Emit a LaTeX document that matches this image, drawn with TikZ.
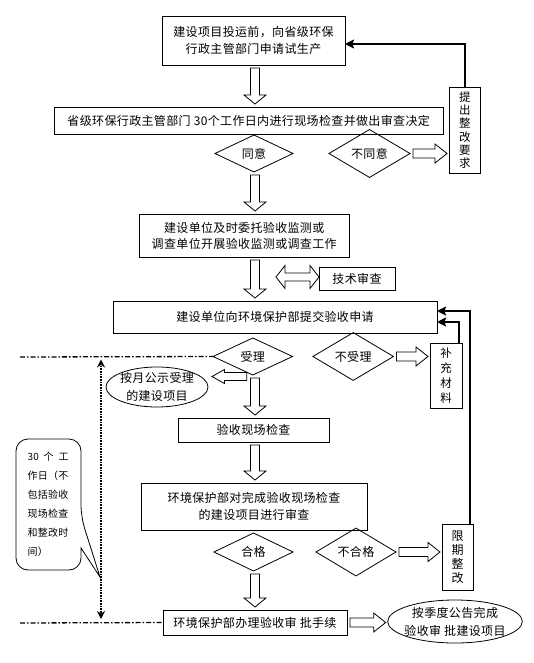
\documentclass[tikz,border=0pt]{standalone}
\usepackage{fontspec}
\setmainfont{Noto Sans CJK SC}[LetterSpace=3]
\usetikzlibrary{shapes.geometric,arrows.meta,calc}

% hollow block arrow pointing down, in the main column
\newcommand\hdown[2]{%
  \draw[hollow] let \p1=#1, \p2=#2 in
  (255pt-4.5pt,\y1-3pt) -- (255pt+4.5pt,\y1-3pt) -- (255pt+4.5pt,\y2+12pt)
  -- (255pt+11pt,\y2+12pt) -- (255pt,\y2+3pt) -- (255pt-11pt,\y2+12pt)
  -- (255pt-4.5pt,\y2+12pt) -- cycle;}
% hollow block arrow pointing right
\newcommand\hright[2]{%
  \draw[hollow] let \p1=#1, \p2=#2 in
  (\x1+3pt,\y1+4.5pt) -- (\x2-14pt,\y1+4.5pt) -- (\x2-14pt,\y1+9.5pt)
  -- (\x2-2pt,\y1) -- (\x2-14pt,\y1-9.5pt) -- (\x2-14pt,\y1-4.5pt)
  -- (\x1+3pt,\y1-4.5pt) -- cycle;}

\begin{document}
\begin{tikzpicture}[x=1pt,y=-1pt,
  box/.style={draw,line width=0.9pt,inner sep=0pt,outer sep=0pt,align=center,font=\fontsize{12}{17}\selectfont},
  dia/.style={diamond,draw,line width=0.8pt,inner sep=0pt,outer sep=0pt,font=\fontsize{12}{14}\selectfont},
  oval/.style={ellipse,draw,line width=0.8pt,inner sep=-3pt,outer sep=0pt,align=center,font=\fontsize{12}{18}\selectfont},
  vbox/.style={draw,line width=0.9pt,inner sep=0pt,outer sep=0pt,align=center},
  hollow/.style={draw,line width=0.8pt,fill=white,line join=miter},
  thickarr/.style={line width=2pt,arrows={-Stealth[length=9pt,width=9pt,inset=1.5pt]}},
  dashdot/.style={line width=1.3pt,dash pattern=on 5pt off 2pt on 1.5pt off 2pt},
  dotarr/.style={line width=2.2pt,dash pattern=on 1pt off 0.6pt,arrows={Stealth[length=8pt,width=8pt]-Stealth[length=8pt,width=8pt]}},
]
\fill[white] (0,0) rectangle (534,663);
\useasboundingbox (0,0) rectangle (534,663);

% nodes
\node[box,minimum width=183pt,minimum height=49pt] (top) at (253.5,40.5) {建设项目投运前，向省级环保\\行政主管部门申请试生产};
\node[box,minimum width=389pt,minimum height=27pt] (b2) at (248.7,120.5) {省级环保行政主管部门 30个工作日内进行现场检查并做出审查决定};
\node[dia,minimum width=78pt,minimum height=37pt] (d1) at (254,153.5) {同意};
\node[dia,minimum width=81pt,minimum height=37pt] (d2) at (369.5,153.5) {不同意};
\node[vbox,minimum width=31.6pt,minimum height=86pt,font=\fontsize{11.5}{13.3}\selectfont] (r1) at (464.8,130) {提\\出\\整\\改\\要\\求};
\node[box,minimum width=209.5pt,minimum height=43pt,font=\fontsize{12}{16}\selectfont] (b3) at (244.2,235.5) {建设单位及时委托验收监测或\\调查单位开展验收监测或调查工作};
\node[box,minimum width=76pt,minimum height=23pt] (tech) at (357,278.5) {技术审查};
\node[box,minimum width=324pt,minimum height=32pt] (b4) at (275,317) {建设单位向环境保护部提交验收申请};
\node[dia,minimum width=79.5pt,minimum height=37pt] (d3) at (252.8,356.5) {受理};
\node[dia,minimum width=80.5pt,minimum height=37pt] (d4) at (353.2,356.5) {不受理};
\node[vbox,minimum width=32pt,minimum height=65pt,font=\fontsize{11.5}{15}\selectfont] (r2) at (446,375.5) {补\\充\\材\\料};
\node[oval,minimum width=102pt,minimum height=40pt] (e1) at (157,387) {按月公示受理\\的建设项目};
\node[box,minimum width=151pt,minimum height=24pt] (b5) at (253.5,430) {验收现场检查};
\node[box,minimum width=226pt,minimum height=47pt] (b6) at (254,506.5) {环境保护部对完成验收现场检查\\的建设项目进行审查};
\node[dia,minimum width=79pt,minimum height=38pt] (d5) at (253.5,552) {合格};
\node[dia,minimum width=80pt,minimum height=38pt] (d6) at (356,552) {不合格};
\node[vbox,minimum width=31pt,minimum height=66pt,font=\fontsize{12}{14}\selectfont] (r3) at (457.5,557) {限\\期\\整\\改};
\node[box,minimum width=184pt,minimum height=25pt] (b7) at (255,622.5) {环境保护部办理验收审 批手续};
\node[oval,minimum width=134pt,minimum height=43pt] (e2) at (455,621.5) {按季度公告完成\\验收审 批建设项目};

% callout
\draw[line width=0.8pt] (81,548) [rounded corners=12pt] -- (81,570) -- (16,570) -- (16,439) -- (81,439) -- (81,517) [sharp corners] -- (100,577) -- cycle;
\node[font=\fontsize{10}{19}\selectfont,align=left,inner sep=0pt] (ct) at (48,504.5) {\makebox[41pt][s]{30 个 工}\\作日（不\\包括验收\\现场检查\\和整改时\\间）};

% hollow arrows
\hdown{(top.south)}{(b2.north)}
\hdown{(d1.south)}{(b3.north)}
\hdown{(b3.south)}{(b4.north)}
\hdown{(d3.south)}{(b5.north)}
\hdown{(b5.south)}{(b6.north)}
\hdown{(d5.south)}{(b7.north)}
\hright{(d2.east)}{(r1.west)}
\hright{(d4.east)}{(r2.west)}
\hright{(d6.east)}{(r3.west)}
\hright{(b7.east)}{(e2.west)}
% left arrow to e1
\draw[hollow] let \p1=(d3.south), \p2=(e1.east) in
  (\x1-6pt,\y1+2.5pt) -- (\x2+16.5pt,\y1+2.5pt) -- (\x2+16.5pt,\y1+5.5pt)
  -- (\x2+4pt,\y1-1.5pt) -- (\x2+16.5pt,\y1-8.5pt) -- (\x2+16.5pt,\y1-5.5pt)
  -- (\x1-6pt,\y1-5.5pt) -- cycle;
% double arrow to technical review
\draw[hollow] let \p1=(tech.west) in
  (\x1-43pt,\y1+1.5pt) -- (\x1-34pt,\y1+13pt) -- (\x1-34pt,\y1+5.5pt)
  -- (\x1-9pt,\y1+5.5pt) -- (\x1-9pt,\y1+13pt) -- (\x1,\y1+1.5pt)
  -- (\x1-9pt,\y1-10pt) -- (\x1-9pt,\y1-2.5pt) -- (\x1-34pt,\y1-2.5pt)
  -- (\x1-34pt,\y1-10pt) -- cycle;

% thick feedback arrows
\draw[thickarr] (r1.north) |- ($(top.east)+(0,3.5)$);
\draw[thickarr] ($(r3.north east)+(-3,0)$) |- ($(b4.east)+(0,-6)$);
\draw[thickarr] ($(r2.north east)+(-3,0)$) |- ($(b4.east)+(0,5)$);

% time span markers
\coordinate (L1) at (20,357);
\coordinate (L2) at (20,623);
\draw[dashdot] (L1) -- (d3.west);
\draw[dashdot] (L2) -- (b7.west);
\coordinate (V1) at (101,359.5);
\coordinate (V2) at (101,619);
\draw[dotarr] (V1) -- (V2);
\end{tikzpicture}
\end{document}
